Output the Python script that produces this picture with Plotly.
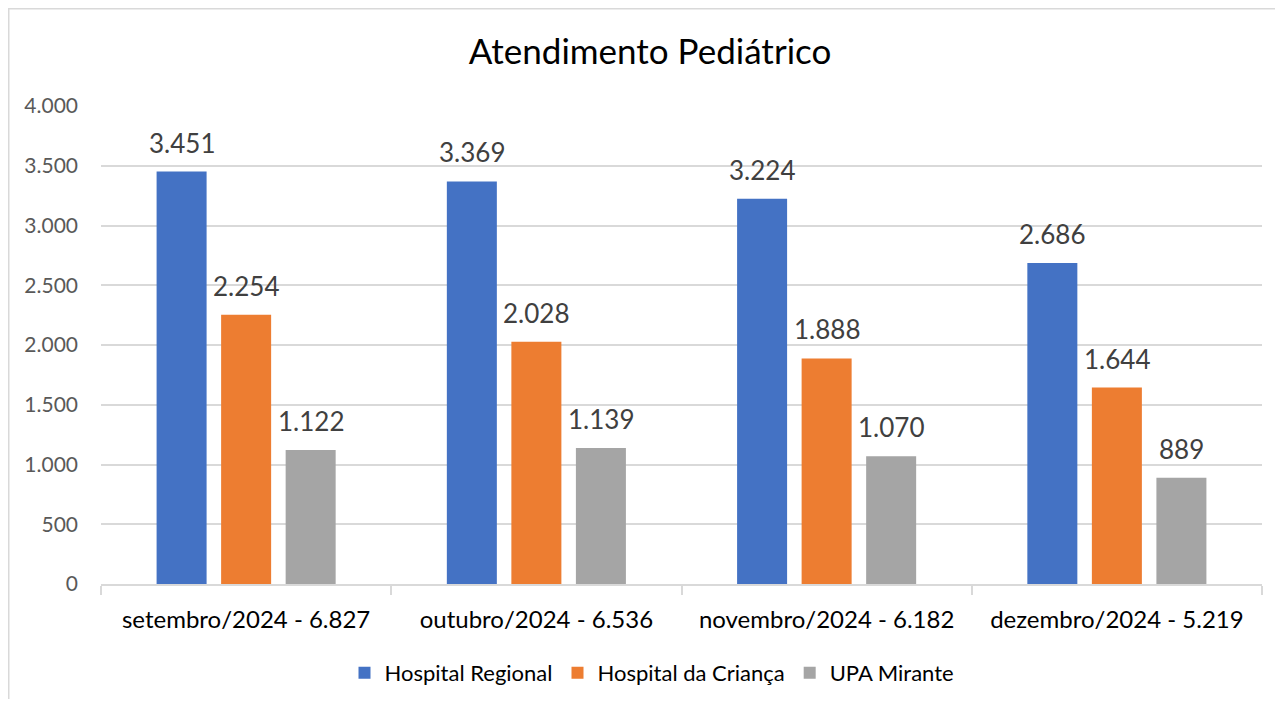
import plotly.graph_objects as go

categories = ["setembro/2024 - 6.827", "outubro/2024 - 6.536", "novembro/2024 - 6.182", "dezembro/2024 - 5.219"]
series_names = ["Hospital Regional", "Hospital da Criança", "UPA Mirante"]
hospital_regional = [3451, 3369, 3224, 2686]
hospital_crianca = [2254, 2028, 1888, 1644]
upa_mirante = [1122, 1139, 1070, 889]
y_ticks = [0, 500, 1000, 1500, 2000, 2500, 3000, 3500, 4000]
colors = ["#4472C4", "#ED7D31", "#A5A5A5"]

FONT = "Lato"
# page has an 8px body margin; figure coordinates = page coordinates - 8
OFF = 8
W, H = 1283 - 2 * OFF, 707 - 2 * OFF
L = 101 - OFF
PR = 1262 - OFF
T = 106 - OFF
PB = 584 - OFF
R, B = W - PR, H - PB
pw, ph = PR - L, PB - T

BARGAP = 0.333
GROUPGAP = 0.225
slot = pw / len(categories) * (1 - BARGAP) / len(series_names)


def px_x(x):
    return (x - OFF - L) / pw


def px_y(y):
    return (PB - (y - OFF)) / ph


fig = go.Figure()
all_vals = [hospital_regional, hospital_crianca, upa_mirante]
for name, vals, col in zip(series_names, all_vals, colors):
    fig.add_trace(go.Bar(x=categories, y=vals, name=name,
                         marker=dict(color=col, line=dict(width=0))))

annotations = []
for i, vals in enumerate(all_vals):
    for c, v in zip(categories, vals):
        annotations.append(dict(
            x=c, y=v, xref="x", yref="y", text=f"{v:,}".replace(",", "."),
            showarrow=False, xanchor="center", yanchor="middle",
            xshift=(i - 1) * slot, yshift=29,
            font=dict(family=FONT, size=26, color="#404040")))

fig.update_layout(
    width=W, height=H,
    margin=dict(l=L, r=R, t=T, b=B, autoexpand=False),
    paper_bgcolor="white", plot_bgcolor="white",
    separators=",.",
    barmode="group", bargap=BARGAP, bargroupgap=GROUPGAP,
    font=dict(family=FONT, color="#404040"),
    title=dict(text="Atendimento Pediátrico", x=(650 - OFF) / W, xanchor="center",
               y=1 - (52 - OFF) / H, yanchor="middle", yref="container",
               font=dict(family=FONT, size=35, color="#000000")),
    showlegend=True,
    legend=dict(orientation="h", x=px_x(652), xanchor="center", y=px_y(673), yanchor="middle",
                font=dict(family=FONT, size=22, color="#000000"),
                traceorder="normal"),
    xaxis=dict(type="category", showgrid=False, showline=True, linecolor="#d9d9d9", linewidth=1.5,
               ticks="outside", tickson="boundaries", ticklen=9, tickcolor="#d9d9d9", tickwidth=1.5,
               tickfont=dict(family=FONT, size=24, color="#000000"), ticklabelstandoff=13),
    yaxis=dict(range=[0, 4000], tickvals=y_ticks, tickformat=",", showgrid=True,
               gridcolor="#d9d9d9", gridwidth=1.5, zeroline=False, showline=False,
               tickfont=dict(family=FONT, size=21, color="#595959"), ticklabelstandoff=22),
    annotations=annotations,
    shapes=[
        dict(type="line", xref="paper", yref="paper", x0=px_x(8.75), x1=px_x(8.75), y0=px_y(8), y1=px_y(707),
             line=dict(color="#d9d9d9", width=1.5)),
        dict(type="line", xref="paper", yref="paper", x0=px_x(8), x1=px_x(1283), y0=px_y(8.75), y1=px_y(8.75),
             line=dict(color="#d9d9d9", width=1.5)),
    ],
)

fig.write_html("out.html")
